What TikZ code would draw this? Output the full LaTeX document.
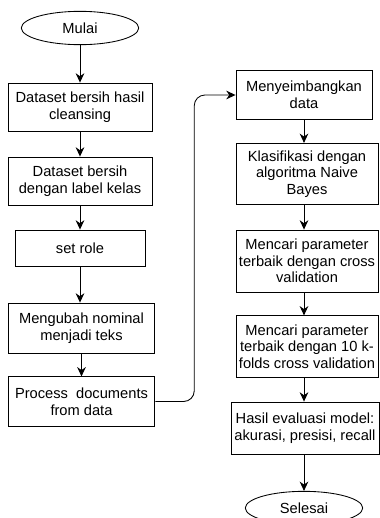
\documentclass[tikz,border=0pt]{standalone}
\usepackage{fontspec}
\setmainfont{Liberation Sans}
\usetikzlibrary{arrows.meta,shapes.geometric}

\begin{document}
\begin{tikzpicture}[x=0.75pt,y=-0.75pt,
  proses/.style={draw,line width=0.65pt,align=center,inner sep=1pt,font=\fontsize{11}{12.5}\selectfont},
  terminal/.style={draw,ellipse,line width=0.65pt,minimum width=88pt,minimum height=25pt,inner sep=0pt,font=\fontsize{11}{12.5}\selectfont},
  panah/.style={line width=0.65pt,-{Stealth[length=7pt,width=6.5pt]}}]
  \useasboundingbox (0,0) rectangle (379,518);
  % kolom kiri
  \node[terminal] (mulai) at (80,28) {Mulai};
  \node[proses,minimum width=108pt,minimum height=36pt] (b1) at (80,107) {Dataset bersih hasil\\cleansing};
  \node[proses,minimum width=108pt,minimum height=36pt] (b2) at (80,181) {Dataset bersih\\dengan label kelas};
  \node[proses,minimum width=97.5pt,minimum height=27pt] (b3) at (80,248) {set role};
  \node[proses,minimum width=110pt,minimum height=37.5pt] (b4) at (81.5,328) {Mengubah nominal\\menjadi teks};
  \node[proses,minimum width=110pt,minimum height=37pt] (b5) at (81.5,401.5) {Process\ \ documents\\from data};
  % kolom kanan
  \node[proses,minimum width=102pt,minimum height=37pt] (b6) at (304,95) {Menyeimbangkan\\data};
  \node[proses,minimum width=106.5pt,minimum height=46pt] (b7) at (307,174) {Klasifikasi dengan\\algoritma Naive\\Bayes};
  \node[proses,minimum width=106.5pt,minimum height=46.5pt] (b8) at (307,261) {Mencari parameter\\terbaik dengan cross\\validation};
  \node[proses,minimum width=106.5pt,minimum height=46pt] (b9) at (307,346.5) {Mencari parameter\\terbaik dengan 10 k-\\folds cross validation};
  \node[proses,minimum width=111pt,minimum height=39pt] (b10) at (305,428) {Hasil evaluasi model:\\akurasi, presisi, recall};
  \node[terminal] (selesai) at (304,508) {Selesai};

  \draw[panah] (mulai) -- (b1);
  \draw[panah] (b1) -- (b2);
  \draw[panah] (b2) -- (b3);
  \draw[panah] (b3) -- (b3 |- b4.north);
  \draw[panah] (b4.south) -- (b4.south |- b5.north);
  \draw[panah,rounded corners=8pt] (b5.east) -- ++(39,0) |- (b6.west);
  \draw[panah] (b6.south) -- (b6.south |- b7.north);
  \draw[panah] (b6.south |- b7.south) -- (b6.south |- b8.north);
  \draw[panah] (b6.south |- b8.south) -- (b6.south |- b9.north);
  \draw[panah] (b6.south |- b9.south) -- (b6.south |- b10.north);
  \draw[panah] (b10.south -| selesai) -- (selesai);
\end{tikzpicture}
\end{document}
